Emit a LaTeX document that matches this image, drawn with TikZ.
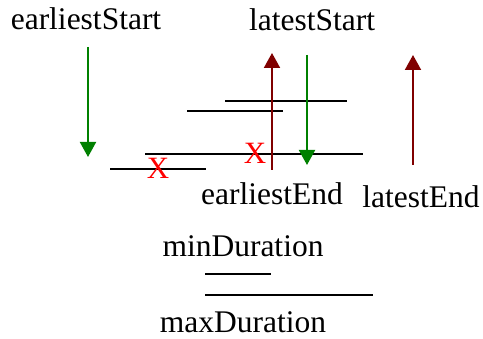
\documentclass[tikz,border=0pt]{standalone}
\usepackage{fontspec}
\setmainfont{Liberation Serif}
\usetikzlibrary{arrows.meta}
\definecolor{agreen}{RGB}{0,128,0}
\definecolor{ared}{RGB}{128,0,0}
\definecolor{xred}{RGB}{255,0,0}
\begin{document}
\begin{tikzpicture}[x=1pt,y=-1pt,
  lbl/.style={inner sep=0pt,anchor=base,font=\fontsize{31.5}{36}\selectfont},
  xmark/.style={inner sep=0pt,anchor=base,text=xred,font=\fontsize{31}{36}\selectfont},
  bar/.style={line width=2pt,black},
  garrow/.style={line width=2pt,agreen,-{Triangle[length=15pt,width=16pt]}},
  rarrow/.style={line width=2pt,ared,-{Triangle[length=15pt,width=16pt]}}]
\useasboundingbox (0,0) rectangle (483,339);
% labels
\node[lbl] (es) at (86,30) {earliestStart};
\node[lbl] (ls) at (312,31) {latestStart};
\node[lbl] (ee) at (272,205) {earliestEnd};
\node[lbl] (le) at (421,208) {latestEnd};
\node[lbl] (mind) at (243,257) {minDuration};
\node[lbl] (maxd) at (243,333) {maxDuration};
% bars
\coordinate (b1a) at (225,101); \coordinate (b1b) at (347,101);
\coordinate (b2a) at (187,111); \coordinate (b2b) at (283,111);
\coordinate (b3a) at (145,154); \coordinate (b3b) at (363,154);
\coordinate (b4a) at (110,169); \coordinate (b4b) at (206,169);
\coordinate (m1a) at (205,274); \coordinate (m1b) at (271,274);
\coordinate (m2a) at (205,295); \coordinate (m2b) at (373,295);
\draw[bar] (b1a) -- (b1b);
\draw[bar] (b2a) -- (b2b);
\draw[bar] (b3a) -- (b3b);
\draw[bar] (b4a) -- (b4b);
\draw[bar] (m1a) -- (m1b);
\draw[bar] (m2a) -- (m2b);
% X marks
\node[xmark] (x1) at (158,179) {X};
\node[xmark] (x2) at (255,164) {X};
% arrows
\coordinate (g1s) at (88,47); \coordinate (g1e) at (88,157);
\coordinate (r1s) at (272,170); \coordinate (r1e) at (272,53);
\coordinate (g2s) at (307,55); \coordinate (g2e) at (307,165);
\coordinate (r2s) at (413,165); \coordinate (r2e) at (413,55);
\draw[garrow] (g1s) -- (g1e);
\draw[rarrow] (r1s) -- (r1e);
\draw[garrow] (g2s) -- (g2e);
\draw[rarrow] (r2s) -- (r2e);
\end{tikzpicture}
\end{document}
